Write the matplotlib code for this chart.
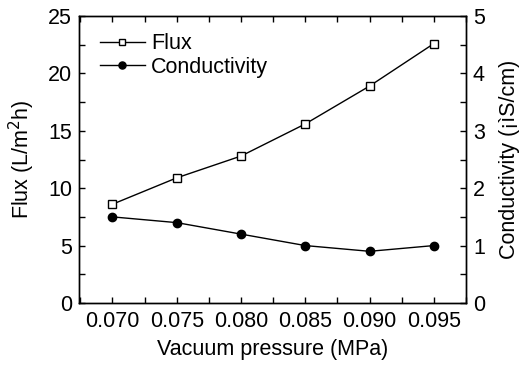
import matplotlib
matplotlib.use("Agg")
import matplotlib.pyplot as plt
from matplotlib.ticker import MultipleLocator

plt.rcParams['font.family'] = ['Liberation Sans', 'DejaVu Sans']

pressure = [0.070, 0.075, 0.080, 0.085, 0.090, 0.095]
flux = [8.6, 10.9, 12.8, 15.6, 18.9, 22.6]
conductivity = [1.5, 1.4, 1.2, 1.0, 0.9, 1.0]
xtick_labels = ["0.070", "0.075", "0.080", "0.085", "0.090", "0.095"]

FS = 15.5

fig = plt.figure(figsize=(5.23, 3.65), dpi=100)
ax = fig.add_axes([0.151, 0.170, 0.740, 0.786])
ax2 = ax.twinx()

l1, = ax.plot(pressure, flux, color='black', lw=1.0, marker='s', ms=5.2,
              mfc='white', mec='black', mew=1.0, label='Flux')
l2, = ax2.plot(pressure, conductivity, color='black', lw=1.0, marker='o', ms=6,
               mfc='black', mec='black', label='Conductivity')

ax.set_xlim(0.0674, 0.0975)
ax.set_ylim(0, 25)
ax2.set_ylim(0, 5)
ax.set_xticks(pressure)
ax.set_xticklabels(xtick_labels)
ax.xaxis.set_minor_locator(MultipleLocator(0.0025))
ax.yaxis.set_major_locator(MultipleLocator(5))
ax.yaxis.set_minor_locator(MultipleLocator(2.5))
ax2.yaxis.set_major_locator(MultipleLocator(1))
ax2.yaxis.set_minor_locator(MultipleLocator(0.5))

ax.tick_params(axis='x', which='both', direction='in', top=True, length=4,
               width=1, labelsize=FS, pad=6)
ax.tick_params(axis='y', which='both', direction='in', length=4, width=1,
               labelsize=FS, pad=5)
ax2.tick_params(axis='y', which='both', direction='in', length=4, width=1,
                labelsize=FS, pad=5)

for a in (ax, ax2):
    for s in a.spines.values():
        s.set_linewidth(1.0)

ax.set_xlabel('Vacuum pressure (MPa)', fontsize=FS, labelpad=5)
ax.set_ylabel('Flux (L/m$^2$h)', fontsize=FS, labelpad=8)
ax2.set_ylabel('Conductivity (\u00a1\u00ecS/cm)', fontsize=FS, labelpad=10)

ax.legend(handles=[l1, l2], loc='upper left', frameon=False, fontsize=FS,
          handlelength=2.1, handletextpad=0.3, labelspacing=0.12,
          markerscale=0.85, borderaxespad=0.2, bbox_to_anchor=(0.02, 0.985))

fig.savefig('out.png', dpi=100)
